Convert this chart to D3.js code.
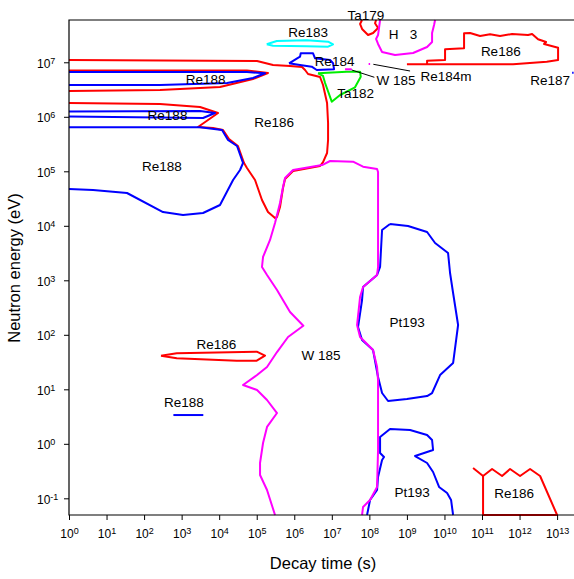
<!DOCTYPE html>
<html><head><meta charset="utf-8">
<script src="https://cdn.jsdelivr.net/npm/d3@7"></script>
<style>
body{margin:0;background:#fff;}
svg text{font-family:Arial,"Liberation Sans",Helvetica,sans-serif;fill:#000;}
</style></head>
<body><svg id="c" width="574" height="579"></svg>
<script>
// All values are log10(decay time [s]), log10(neutron energy [eV])
const xTickExp = [0,1,2,3,4,5,6,7,8,9,10,11,12,13];
const yTickExp = [-1,0,1,2,3,4,5,6,7];

const re186Main = [[0,7.042],[5.008,7.024],[5.434,6.95],[5.887,6.932],[6.207,6.914],[6.287,6.859],[6.367,6.785],[6.686,6.73],[6.766,6.583],[6.873,6.253],[6.9,5.886],[6.9,5.574],[6.873,5.336],[6.766,5.17],[6.686,5.097],[5.967,5.006],[5.754,4.859],[5.70,4.694],[5.62,4.345],[5.54,4.161],[5.487,4.143],[5.30,4.253],[5.14,4.473],[4.955,4.84],[4.74,5.06],[4.662,5.152],[4.50,5.464],[4.262,5.593],[4.102,5.758],[3.836,5.794],[3.436,5.813],[3.97,6.07],[3.49,6.18],[2.424,6.235],[0,6.253]];
const re186Band = [[0,6.85],[4.74,6.85],[5.30,6.804],[4.90,6.694],[4.022,6.547],[2.424,6.492],[0,6.473]];
const re186Spike = [[2.45,1.617],[2.87,1.66],[5.0,1.69],[5.22,1.617],[5.0,1.525],[4.467,1.525],[2.87,1.569],[2.45,1.617]];
const re186Right = [[9.0,6.963],[9.537,6.963],[9.537,7.029],[10.016,7.042],[10.016,7.239],[10.522,7.257],[10.522,7.532],[10.682,7.538],[10.948,7.483],[11.215,7.514],[11.48,7.483],[11.8,7.519],[12.227,7.50],[12.334,7.519],[12.493,7.422],[12.707,7.372],[12.653,7.336],[13.026,7.268],[13.026,7.042],[12.725,7.011],[11.827,6.963],[9.0,6.963]];
const re186Low = [[10.762,-0.444],[11.028,-0.59],[11.268,-0.462],[11.534,-0.59],[11.747,-0.462],[12.014,-0.59],[12.28,-0.462],[12.547,-0.59],[13.0,-1.306],[11.028,-1.306],[11.028,-0.59]];
const re188Band1 = [[0,6.822],[4.74,6.822],[5.22,6.798],[4.90,6.712],[4.21,6.62],[2.424,6.583],[0,6.583]];
const re188Band2 = [[0,6.097],[3.49,6.106],[3.89,6.07],[3.57,5.978],[0,6.006]];
const re188Blob = [[0,5.807],[3.49,5.807],[4.076,5.758],[4.235,5.574],[4.475,5.464],[4.635,5.152],[4.555,5.024],[4.37,4.84],[4.022,4.382],[3.57,4.235],[3.037,4.198],[2.504,4.253],[1.545,4.602],[0.64,4.657],[0,4.675]];
const re188Low = [[2.78,0.528],[3.577,0.528]];
const w185Main = [[5.487,-1.306],[5.274,-0.847],[5.088,-0.572],[5.088,-0.352],[5.168,0.015],[5.274,0.31],[5.54,0.565],[5.274,0.804],[5.008,0.988],[4.635,1.08],[5.008,1.262],[5.274,1.41],[5.54,1.684],[5.834,1.96],[6.241,2.167],[5.887,2.418],[5.54,2.822],[5.274,3.098],[5.14,3.244],[5.168,3.428],[5.354,3.74],[5.487,4.051],[5.62,4.418],[5.70,4.712],[5.754,4.877],[5.967,5.024],[6.74,5.115],[6.953,5.189],[7.565,5.176],[7.832,5.084],[8.205,5.042],[8.231,4.987],[8.231,3.244],[8.205,3.098],[7.832,2.877],[7.752,2.694],[7.672,2.18],[7.752,1.96],[8.098,1.72],[8.205,1.41],[8.231,1.17],[8.231,-0.113],[8.205,-0.792],[8.018,-1.03],[7.832,-1.159],[7.805,-1.306]];
const w185Small = [[7.352,6.872],[7.53,6.872]];
const re184mDot = [[7.98,6.969],[8.02,6.969]];
const pt193Up = [[8.55,4.033],[9.03,3.996],[9.537,3.886],[9.75,3.684],[10.096,3.5],[10.149,3.134],[10.23,2.767],[10.363,2.18],[10.23,1.482],[9.883,1.262],[9.67,0.932],[9.537,0.877],[9.0,0.822],[8.498,0.786],[8.338,0.932],[8.231,1.226],[8.098,1.72],[7.805,1.905],[7.698,2.143],[7.805,2.639],[7.832,2.877],[8.205,3.098],[8.285,3.244],[8.338,3.923],[8.55,4.033]];
const pt193Low = [[7.938,-1.306],[8.018,-1.03],[8.205,-0.847],[8.231,-0.609],[8.338,-0.297],[8.39,-0.242],[8.285,-0.169],[8.285,0.125],[8.55,0.272],[9.084,0.254],[9.537,0.163],[9.67,0.07],[9.697,-0.113],[9.217,-0.224],[9.537,-0.352],[9.697,-0.517],[9.856,-0.792],[10.07,-0.902],[10.176,-1.03],[10.23,-1.306]];
const re183 = [[5.266,7.33],[5.533,7.39],[6.333,7.404],[6.9,7.378],[7.033,7.33],[6.9,7.286],[6.333,7.294],[5.434,7.305],[5.266,7.33]];
const re184 = [[5.86,6.982],[6.153,7.103],[6.172,7.165],[6.5,7.165],[6.553,7.073],[6.953,7.042],[7.033,6.982],[7.06,6.872],[6.598,6.859],[6.465,6.919],[6.153,6.95],[5.86,6.982]];
const ta182 = [[6.633,6.798],[6.766,6.749],[6.82,6.62],[6.998,6.277],[7.22,6.40],[7.618,6.541],[7.77,6.736],[7.752,6.828],[7.397,6.828],[6.633,6.798]];
const ta179 = [[7.805,7.776],[7.752,7.703],[7.805,7.611],[7.965,7.50],[8.098,7.538],[8.231,7.63],[8.151,7.716],[8.178,7.776]];
const h3 = [[8.285,7.776],[8.231,7.50],[8.178,7.428],[8.231,7.336],[8.338,7.189],[8.684,7.134],[9.164,7.171],[9.537,7.28],[9.67,7.372],[9.67,7.538],[9.723,7.684],[9.75,7.776]];
const re187 = [[13.40,6.81],[13.44,6.81]];
const leaderW185 = [[7.53,6.859],[8.133,6.725]];
const leaderRe184m = [[8.106,6.963],[9.084,6.84]];

const labelText = ["Re188","Re188","Re186","Re188","Re186","Re188","W 185","Pt193","Pt193","Re186","Re183","Re184","Ta182","W 185","Re184m","Ta179","H   3","Re186","Re187"];
const labelT = [3.641,2.624,5.461,2.477,3.924,3.063,6.713,9.004,9.137,11.854,6.367,7.072,7.632,8.711,10.043,7.91,8.897,11.5,12.813];
const labelE = [6.688,6.033,5.91,5.103,1.826,0.772,1.629,2.24,-0.879,-0.908,7.561,7.029,6.431,6.675,6.749,7.857,7.519,7.207,6.675];

const W = 574, H = 579;
const x = d3.scaleLog().domain([1, Math.pow(10,13.45)]).range([69, 574]);
const y = d3.scaleLog().domain([Math.pow(10,-1.306), Math.pow(10,7.776)]).range([515, 20]);
const svg = d3.select("#c");

const line = d3.line().x(d => x(Math.pow(10,d[0]))).y(d => y(Math.pow(10,d[1])));

const contours = [
  {d: re186Band, c: "#ff0000"},
  {d: re186Main, c: "#ff0000"},
  {d: re188Band1, c: "#0000ff"},
  {d: re188Band2, c: "#0000ff"},
  {d: re188Blob, c: "#0000ff"},
  {d: re186Spike, c: "#ff0000"},
  {d: re188Low, c: "#0000ff"},
  {d: pt193Up, c: "#0000ff"},
  {d: pt193Low, c: "#0000ff"},
  {d: w185Main, c: "#ff00ff"},
  {d: re186Right, c: "#ff0000"},
  {d: re186Low, c: "#ff0000"},
  {d: re183, c: "#00ffff"},
  {d: re184, c: "#0000ff"},
  {d: ta182, c: "#00ee00"},
  {d: ta179, c: "#ff0000"},
  {d: h3, c: "#ff00ff"},
  {d: w185Small, c: "#ff00ff"},
  {d: re184mDot, c: "#ff00ff"},
  {d: re187, c: "#0000ff"}
];

svg.append("g").selectAll("path").data(contours).join("path")
  .attr("d", c => line(c.d))
  .attr("fill", "none")
  .attr("stroke", c => c.c)
  .attr("stroke-width", 2)
  .attr("stroke-linejoin", "round");

svg.append("g").selectAll("path").data([leaderW185, leaderRe184m]).join("path")
  .attr("d", d => line(d))
  .attr("fill", "none").attr("stroke", "#000").attr("stroke-width", 1);

// frame
svg.append("path")
  .attr("d", `M${x(Math.pow(10,13.45))},${y.range()[1]}H69V515H${x(Math.pow(10,13.45))}`)
  .attr("fill","none").attr("stroke","#000").attr("stroke-width",1.2);

// axes
const xAxis = svg.append("g").attr("transform","translate(0,515)")
  .call(d3.axisBottom(x).tickValues(xTickExp.map(e=>Math.pow(10,e))).tickFormat("").tickSize(5).tickSizeOuter(0));
xAxis.select(".domain").remove();
xAxis.selectAll(".tick line").attr("stroke","#000");
xAxis.selectAll(".tick").each(function(v,i){
  const t = d3.select(this).append("text").attr("y",23).attr("text-anchor","middle").attr("font-size","12px").attr("fill","#000");
  t.append("tspan").text("10");
  t.append("tspan").attr("dy",-4).attr("font-size","9px").text(xTickExp[i]);
});

const yAxis = svg.append("g").attr("transform","translate(69,0)")
  .call(d3.axisLeft(y).tickValues(yTickExp.map(e=>Math.pow(10,e))).tickFormat("").tickSize(5).tickSizeOuter(0));
yAxis.select(".domain").remove();
yAxis.selectAll(".tick line").attr("stroke","#000");
yAxis.selectAll(".tick").each(function(v,i){
  const t = d3.select(this).append("text").attr("x",-32).attr("y",5).attr("text-anchor","start").attr("font-size","12px").attr("fill","#000");
  t.append("tspan").text("10");
  t.append("tspan").attr("dy",-4).attr("font-size","9px").text(yTickExp[i]);
});

// labels
svg.append("g").selectAll("text").data(labelText).join("text")
  .attr("x",(d,i)=>x(Math.pow(10,labelT[i])))
  .attr("y",(d,i)=>y(Math.pow(10,labelE[i])))
  .attr("dy","0.36em")
  .attr("text-anchor","middle")
  .attr("font-size","13.5px")
  .style("white-space","pre")
  .attr("xml:space","preserve")
  .text(d=>d);

// axis titles
svg.append("text").attr("x",323).attr("y",569).attr("text-anchor","middle").attr("font-size","16.5px").text("Decay time (s)");
svg.append("text").attr("transform","translate(20,268) rotate(-90)").attr("text-anchor","middle").attr("font-size","16.5px").text("Neutron energy (eV)");
</script>
</body></html>
